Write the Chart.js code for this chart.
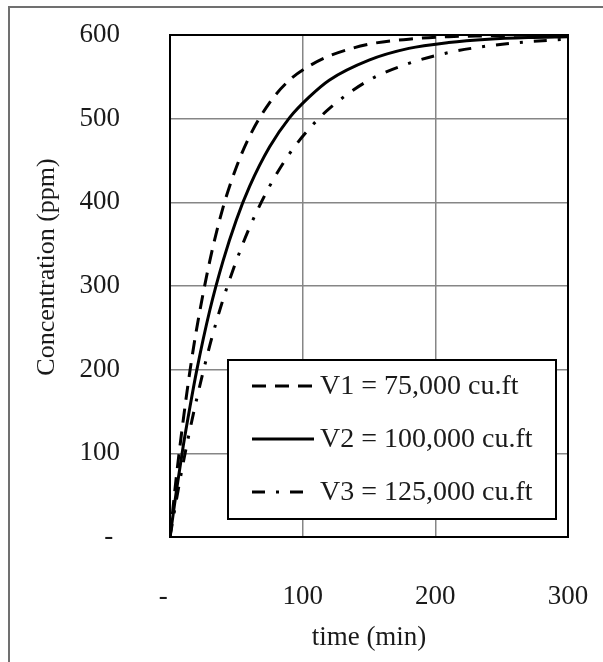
<!DOCTYPE html>
<html>
<head>
<meta charset="utf-8">
<script src="https://cdn.jsdelivr.net/npm/chart.js@4.4.0/dist/chart.umd.min.js"></script>
<style>
    html, body { margin: 0; padding: 0; background: #fff; }
    #wrap { width: 603px; height: 662px; }
</style>
</head>
<body>
<div id="wrap"><canvas id="concChart" width="603" height="662"></canvas></div>
<script>
// time (min) and concentration (ppm)
let times = [0, 5, 10, 15, 20, 30, 40, 50, 60, 75, 90, 105, 120, 150, 180, 210, 240, 270, 300]
let v1 = [0, 75, 140, 198, 248, 330, 394, 442, 479, 519, 546, 563, 575, 589, 595, 598, 599, 600, 600]
let v2 = [0, 57, 109, 155, 198, 271, 330, 379, 419, 466, 501, 526, 546, 570, 584, 591, 595, 597, 598]
let v3 = [0, 46, 89, 128, 164, 229, 284, 330, 370, 419, 458, 488, 512, 546, 566, 579, 587, 592, 595]
let seriesLabels = ['V1 = 75,000 cu.ft', 'V2 = 100,000 cu.ft', 'V3 = 125,000 cu.ft']
let xTicks = [0, 100, 200, 300]
let yTicks = [0, 100, 200, 300, 400, 500, 600]
let yTitle = 'Concentration (ppm)'

const textColor = '#1a1a1a'
const serif = "'Liberation Serif', 'Times New Roman', serif"

function toPoints(values) {
    return values.map((v, i) => ({ x: times[i], y: v }))
}

function makeDataset(label, values, dash) {
    return {
        label: label,
        data: toPoints(values),
        borderColor: '#000',
        borderWidth: 3,
        borderDash: dash,
        borderCapStyle: 'butt',
        pointRadius: 0,
        fill: false,
        cubicInterpolationMode: 'monotone'
    }
}

// plot frame, outer border and the y title (sits a bit above the plot middle)
const framePlugin = {
    id: 'frame',
    beforeDatasetsDraw(chart) {
        const ctx = chart.ctx
        const a = chart.chartArea
        ctx.save()
        ctx.strokeStyle = '#707070'
        ctx.lineWidth = 2
        ctx.beginPath()
        ctx.moveTo(9, chart.height)
        ctx.lineTo(9, 7)
        ctx.lineTo(chart.width, 7)
        ctx.stroke()
        ctx.strokeStyle = '#000'
        ctx.lineWidth = 2
        ctx.strokeRect(a.left, a.top, a.right - a.left, a.bottom - a.top)

        ctx.translate(47, (a.top + a.bottom) / 2 - 19)
        ctx.rotate(-Math.PI / 2)
        ctx.font = '26px ' + serif
        ctx.fillStyle = textColor
        ctx.textAlign = 'center'
        ctx.textBaseline = 'middle'
        ctx.fillText(yTitle, 0, 0)
        ctx.restore()
    }
}

// boxed legend sitting inside the plot
const boxLegend = {
    id: 'boxLegend',
    afterDatasetsDraw(chart) {
        const ctx = chart.ctx
        const a = chart.chartArea
        const left = a.left + 58, top = a.top + 325, w = 328, h = 159
        ctx.save()
        ctx.fillStyle = '#fff'
        ctx.fillRect(left, top, w, h)
        ctx.strokeStyle = '#000'
        ctx.lineWidth = 2
        ctx.strokeRect(left, top, w, h)
        ctx.font = '28px ' + serif
        ctx.textBaseline = 'middle'
        ctx.textAlign = 'left'
        chart.data.datasets.forEach((ds, i) => {
            const y = top + 26 + i * 53
            ctx.strokeStyle = ds.borderColor
            ctx.lineWidth = ds.borderWidth
            ctx.setLineDash(ds.borderDash)
            ctx.beginPath()
            ctx.moveTo(left + 24, y)
            ctx.lineTo(left + 86, y)
            ctx.stroke()
            ctx.setLineDash([])
            ctx.fillStyle = textColor
            ctx.fillText(ds.label, left + 92, y + 1)
        })
        ctx.restore()
    }
}

const chart = new Chart(document.getElementById('concChart'), {
    type: 'line',
    data: {
        datasets: [
            makeDataset(seriesLabels[0], v1, [14, 9]),
            makeDataset(seriesLabels[1], v2, []),
            makeDataset(seriesLabels[2], v3, [13, 11, 3, 11])
        ]
    },
    options: {
        responsive: false,
        animation: false,
        layout: { padding: { top: 35, right: 35, left: 0, bottom: 0 } },
        plugins: {
            legend: { display: false },
            tooltip: { enabled: false }
        },
        scales: {
            x: {
                type: 'linear',
                min: 0,
                max: 300,
                afterBuildTicks: (s) => { s.ticks = xTicks.map(v => ({ value: v })) },
                afterFit: (s) => {
                    s.height = 125
                    s.paddingLeft = 0
                    s.paddingRight = 0
                },
                grid: { color: '#868686', lineWidth: 1.5, drawTicks: false },
                border: { display: false },
                ticks: {
                    padding: 44,
                    color: textColor,
                    font: { family: serif, size: 27 },
                    callback: (v) => v === 0 ? '-  ' : v
                },
                title: {
                    display: true,
                    text: 'time (min)',
                    color: textColor,
                    font: { family: serif, size: 27 },
                    padding: { top: 0, bottom: 8 }
                }
            },
            y: {
                min: 0,
                max: 600,
                afterBuildTicks: (s) => { s.ticks = yTicks.map(v => ({ value: v })) },
                afterFit: (s) => {
                    s.width = 170
                    s.paddingTop = 0
                    s.paddingBottom = 0
                },
                grid: { color: '#868686', lineWidth: 1.5, drawTicks: false },
                border: { display: false },
                ticks: {
                    padding: 50,
                    color: textColor,
                    font: { family: serif, size: 27 },
                    callback: (v) => v === 0 ? '- ' : v
                }
            }
        }
    },
    plugins: [framePlugin, boxLegend]
})
</script>
</body>
</html>
